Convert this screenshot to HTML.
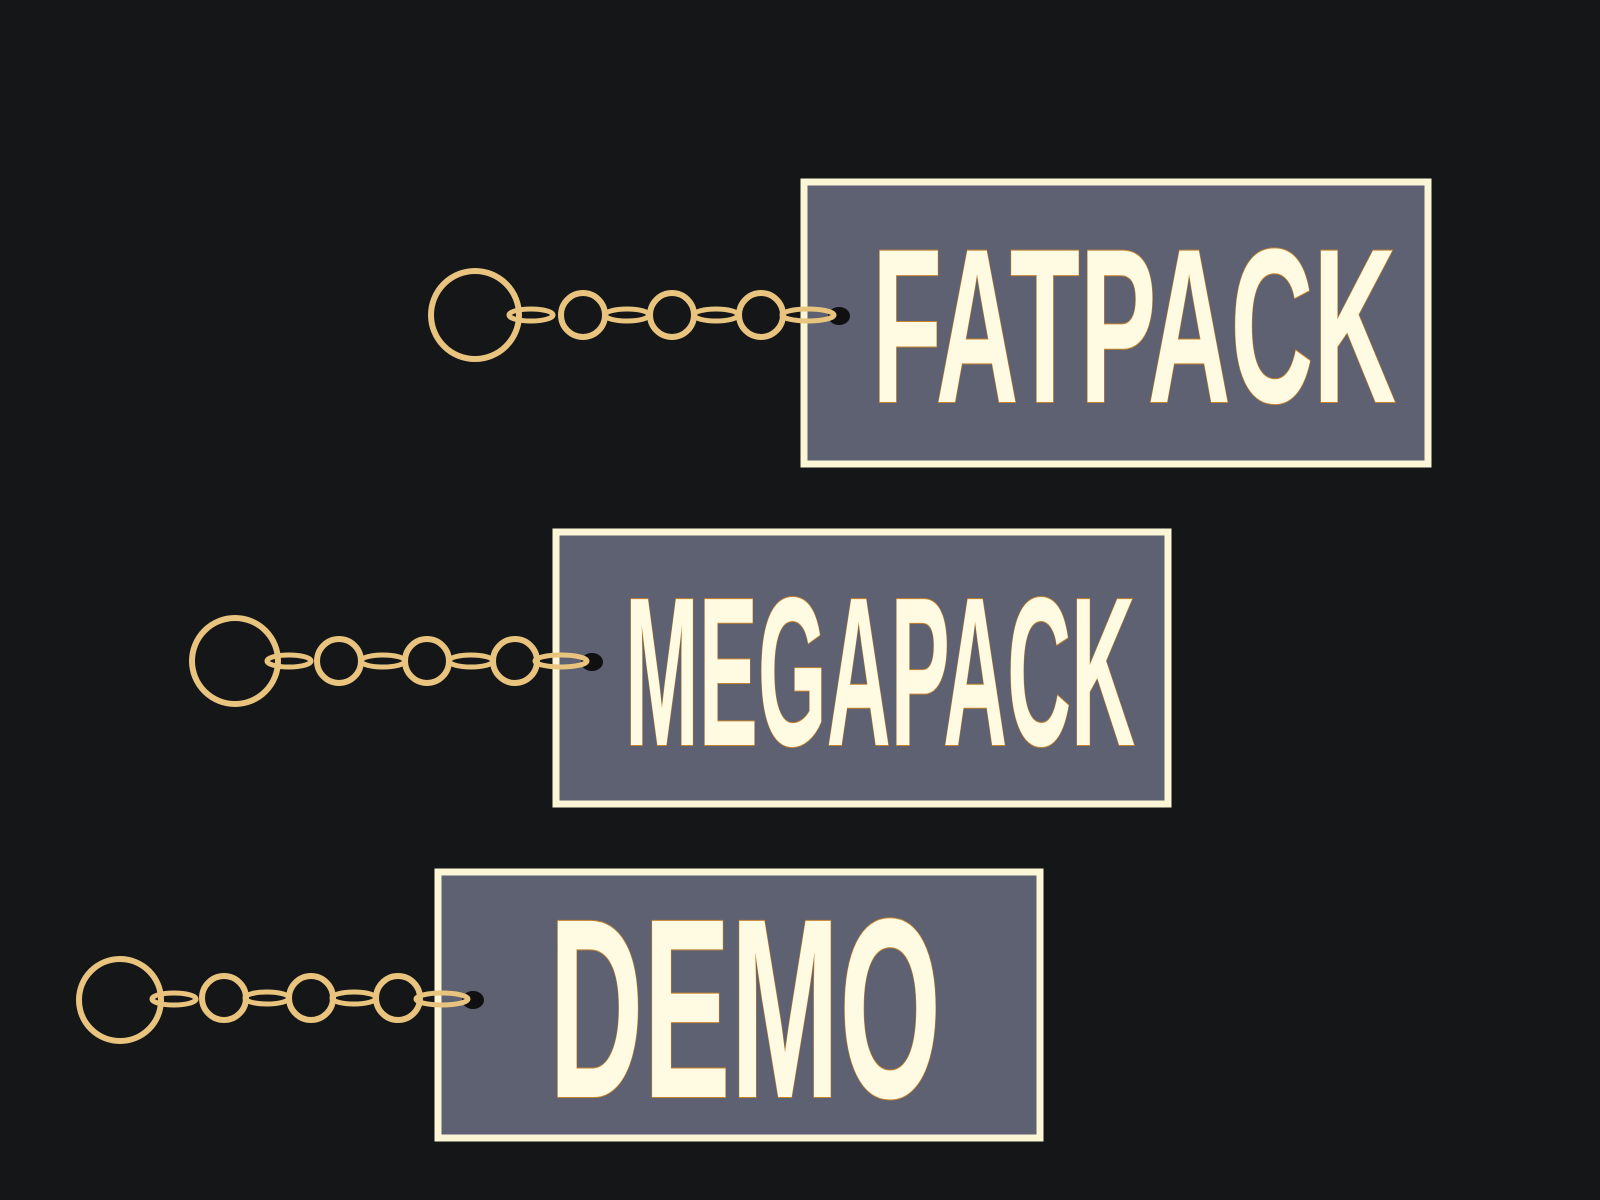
<!DOCTYPE html>
<html><head><meta charset="utf-8"><style>
html,body{margin:0;padding:0;background:#141517;}
svg{display:block}
</style></head><body>
<svg width="1600" height="1200" viewBox="0 0 1600 1200" xmlns="http://www.w3.org/2000/svg">
<rect width="1600" height="1200" fill="#151618"/>
<g fill="#5d6171" stroke="#fbf6d6" stroke-width="7">
<rect x="804" y="182" width="624" height="282"/>
<rect x="556" y="532" width="612" height="272"/>
<rect x="438" y="872" width="602" height="266"/>
</g>
<g font-family="'Liberation Sans Narrow','Liberation Sans',sans-serif" font-weight="bold" fill="#fffbe2" stroke="#c7822c" stroke-width="2" paint-order="stroke">
<text x="872" y="402" font-size="220" textLength="524" lengthAdjust="spacingAndGlyphs">FATPACK</text>
<text x="625" y="745" font-size="212" textLength="510" lengthAdjust="spacingAndGlyphs">MEGAPACK</text>
<text x="549" y="1097" font-size="256" textLength="392" lengthAdjust="spacingAndGlyphs">DEMO</text>
</g>
<g fill="#101012">
<ellipse cx="839" cy="316" rx="11" ry="9"/>
<ellipse cx="592" cy="662" rx="11" ry="9"/>
<ellipse cx="473" cy="1000" rx="11" ry="9"/>
</g>
<g fill="none" stroke="#e9c47e" stroke-width="6">
<circle cx="475" cy="315" r="44"/>
<circle cx="583" cy="315" r="22"/><circle cx="672" cy="315" r="22"/><circle cx="761" cy="315" r="22"/>
<circle cx="235" cy="661" r="43"/>
<circle cx="339" cy="661" r="22"/><circle cx="427" cy="661" r="22"/><circle cx="515" cy="661" r="22"/>
<circle cx="120" cy="1000" r="41"/>
<circle cx="224" cy="998" r="22"/><circle cx="311" cy="998" r="22"/><circle cx="398" cy="998" r="22"/>
</g>
<g fill="none" stroke="#e9c47e" stroke-width="5">
<ellipse cx="531" cy="315" rx="22" ry="6"/><ellipse cx="627" cy="315" rx="22" ry="6"/><ellipse cx="716" cy="315" rx="22" ry="6"/><ellipse cx="808" cy="315" rx="26" ry="6"/>
<ellipse cx="289" cy="661" rx="22" ry="6"/><ellipse cx="383" cy="661" rx="22" ry="6"/><ellipse cx="471" cy="661" rx="22" ry="6"/><ellipse cx="561" cy="661" rx="26" ry="6"/>
<ellipse cx="174" cy="999" rx="22" ry="6"/><ellipse cx="267" cy="998" rx="22" ry="6"/><ellipse cx="354" cy="998" rx="22" ry="6"/><ellipse cx="442" cy="999" rx="26" ry="6"/>
</g>
</svg>
</body></html>
